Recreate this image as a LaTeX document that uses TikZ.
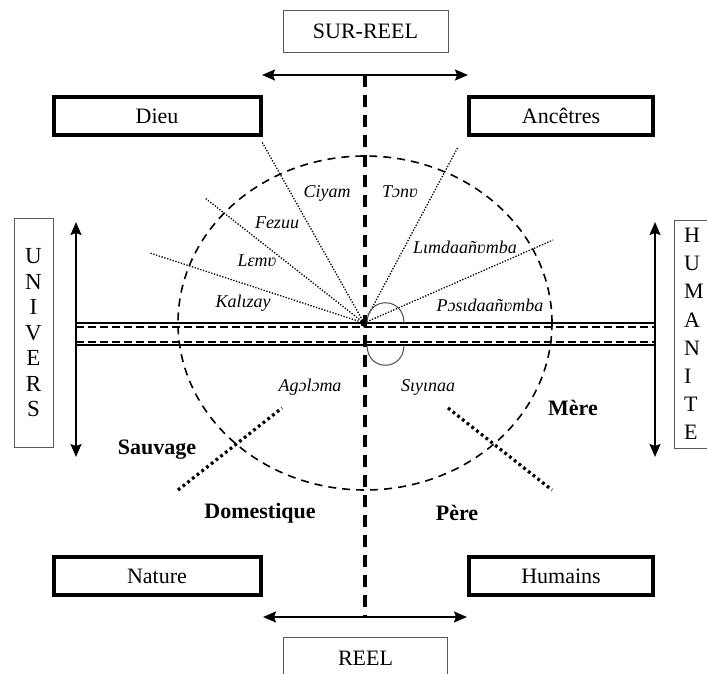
\documentclass[tikz,border=0pt]{standalone}
\usepackage{fontspec}
\setmainfont{Liberation Serif}
\usetikzlibrary{
    positioning,      % relative placement of nodes
    arrows.meta,      % arrow tips (Stealth)
    calc              % coordinate arithmetic
}

\begin{document}
\begin{tikzpicture}[
    % Picture is laid out in pixel-like units, y growing downwards
    x=0.5pt, y=-0.5pt,
    % Style for the heavy framed boxes
    heavy_box/.style={
        draw,
        line width=2pt,
        minimum height=19pt,
        font=\fontsize{11}{13}\selectfont
    },
    % Style for the thin framed boxes
    thin_box/.style={
        draw=black!65,
        line width=0.5pt,
        minimum height=21pt,
        font=\fontsize{11}{13}\selectfont
    },
    % Style for arrowheads on both ends
    arrow_tip/.style={
        {Stealth[length=6.5pt, width=5.5pt, inset=1pt]}-{Stealth[length=6.5pt, width=5.5pt, inset=1pt]},
        line width=0.8pt
    },
    % Line styles
    axis_line/.style={line width=1.6pt, dash pattern=on 6pt off 4pt},
    band_solid/.style={line width=1.3pt},
    band_dashed/.style={line width=1pt, dash pattern=on 4pt off 2pt},
    circle_line/.style={line width=0.8pt, dash pattern=on 4pt off 3pt},
    ray_line/.style={line width=0.65pt, dash pattern=on 0.65pt off 0.8pt},
    split_line/.style={line width=1.6pt, dash pattern=on 1.4pt off 1.6pt},
    % Style for the text labels
    word_label/.style={font=\fontsize{9}{11}\selectfont\itshape, inner sep=1pt},
    side_label/.style={font=\fontsize{11}{13}\selectfont\bfseries, inner sep=1pt}
]
    \useasboundingbox (0,0) rectangle (707,674);

    % 1. Boxes around the cross.
    \node[thin_box, minimum width=82.5pt] (sur_reel) at (365.5,31.5) {SUR-REEL};
    \node[thin_box, minimum width=82pt] (reel) at (365.5,658) {REEL};
    \node[heavy_box, minimum width=103.5pt] (dieu_box) at (157,116) {Dieu};
    \node[heavy_box, minimum width=92pt] (ancetres_box) at (561,116) {Ancêtres};
    \node[heavy_box, minimum width=103.5pt] (nature_box) at (157,576) {Nature};
    \node[heavy_box, minimum width=92pt] (humains_box) at (561,576) {Humains};

    \node[thin_box, minimum width=19.5pt, minimum height=114.5pt, align=center,
          font=\fontsize{11.5}{12.75}\selectfont] (univers_box) at (33.5,333)
        {U\\N\\I\\V\\E\\R\\S};
    \node[thin_box, minimum width=22pt, minimum height=114pt, text width=12pt, align=left,
          font=\fontsize{11}{14.1}\selectfont] (humanite_box) at (696,334)
        {H\\U\\M\\A\\N\\I\\T\\E};

    % 2. Arrows and the main cross.
    \coordinate (centre) at (364,323);
    \coordinate (top_w) at (262,75);
    \coordinate (top_e) at (468,75);
    \coordinate (bottom_w) at (263,617);
    \coordinate (bottom_e) at (467,617);
    \coordinate (left_n) at (76,222);
    \coordinate (left_s) at (76,457);
    \coordinate (right_n) at (655,222);
    \coordinate (right_s) at (655,457);

    \draw[arrow_tip] (top_w) -- (top_e);
    \draw[arrow_tip] (bottom_w) -- (bottom_e);
    \draw[arrow_tip] (left_n) -- (left_s);
    \draw[arrow_tip] (right_n) -- (right_s);
    \draw[axis_line] (365,75) -- (365,617);

    % --- horizontal band
    \draw[band_solid] (76,323) -- (655,323);
    \draw[band_dashed] (76,327) -- (655,327);
    \draw[band_dashed] (76,342) -- (655,342);
    \draw[band_solid] (76,345) -- (655,345);

    % 3. Dashed circle, rays and the two small loops.
    \draw[circle_line] (365,323) ellipse [x radius=93.5pt, y radius=83.5pt];
    \foreach \ex/\ey in {150/253, 205/198, 262/142, 458/147, 553/240}
        \draw[ray_line] (centre) -- (\ex,\ey);
    \fill (centre) circle (1.8pt);
    \draw[black!70, line width=0.5pt] (367,323) .. controls (367,296) and (404,296) .. (404,323);
    \draw[black!70, line width=0.5pt] (367,345) .. controls (367,372) and (404,372) .. (404,345);

    \draw[split_line] (178,490) -- (282,408);
    \draw[split_line] (448,408) -- (552,490);

    % 4. Words in the sectors.
    \node[word_label] (ciyam) at (327,193) {Ciyam};
    \node[word_label] (tonu) at (400,192) {Tɔnʋ};
    \node[word_label] (fezuu) at (277,223) {Fezuu};
    \node[word_label] (lemu) at (257,261) {Lɛmʋ};
    \node[word_label] (kalizay) at (243,303) {Kalɩzay};
    \node[word_label] (limdaa) at (465,247) {Lɩmdaañʋmba};
    \node[word_label] (posidaa) at (490,305) {Pɔsɩdaañʋmba};
    \node[word_label] (agoloma) at (310,387) {Agɔlɔma};
    \node[word_label] (siyinaa) at (428,387) {Sɩyɩnaa};

    \node[side_label] (sauvage) at (157,450) {Sauvage};
    \node[side_label] (domestique) at (260,513) {Domestique};
    \node[side_label] (pere) at (457,513) {Père};
    \node[side_label] (mere) at (573,408) {Mère};

\end{tikzpicture}
\end{document}
